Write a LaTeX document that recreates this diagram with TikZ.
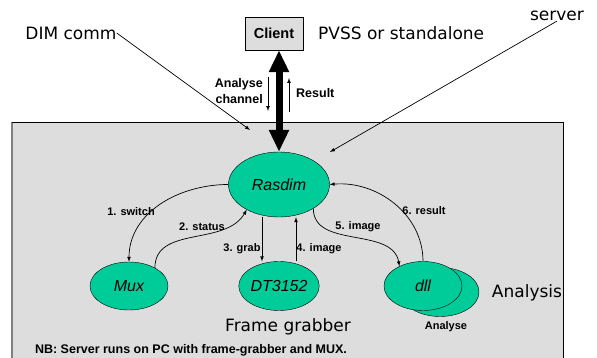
\documentclass[tikz,border=0pt]{standalone}
\usepackage{fontspec}
\setmainfont{Liberation Sans}
\newfontfamily\comicfont{DejaVu Sans}
\usepackage{tikz}
\usetikzlibrary{arrows.meta, shapes.geometric}
\definecolor{boxgray}{RGB}{221,221,221}
\definecolor{blobgreen}{RGB}{0,204,153}

\begin{document}
\begin{tikzpicture}[>=latex, x=1pt, y=1pt,
  blob/.style={ellipse, draw, fill=blobgreen, inner sep=0pt,
    font=\fontsize{16}{18}\selectfont\itshape},
  lbl/.style={font=\fontsize{11}{13}\selectfont\bfseries, inner sep=0pt},
  biglbl/.style={font=\fontsize{12.5}{16}\selectfont\bfseries, inner sep=0pt},
  remark/.style={font=\comicfont\fontsize{17}{19}\selectfont, inner sep=0pt},
  conn/.style={->, line width=0.7pt}]
  \useasboundingbox (0,0) rectangle (597,-358);
  % the server box
  \fill [boxgray] (12,-122) rectangle (563,-362);
  \draw [gray, line width=1.5pt] (12,-362) -- (12,-122);
  \draw [line width=0.8pt] (12,-122) -- (563,-122) -- (563,-362);

  \node [draw, fill=boxgray, minimum width=58pt, minimum height=33pt,
    font=\fontsize{14.5}{16}\selectfont\bfseries] (client) at (274,-33.5) {Client};
  \node at (318,-33) [remark, anchor=west] (pvss) {PVSS or standalone};
  \node at (71,-33) [remark] (dimcomm) {DIM comm};
  \node at (557,-16) [remark] (server) {server};

  \node at (279,-184.5) [blob, minimum width=101pt, minimum height=65pt] (rasdim) {Rasdim};
  \node at (129,-286) [blob, minimum width=78pt, minimum height=48pt] (mux) {Mux};
  \node at (279,-286) [blob, minimum width=79pt, minimum height=49pt] (dt) {DT3152};
  \node at (440,-292) [blob, minimum width=78pt, minimum height=49pt] (dllback) {};
  \node at (423,-286) [blob, minimum width=78pt, minimum height=49pt] (dll) {dll};

  \node at (446,-327) [lbl] (analyselbl) {Analyse};
  \node at (527,-293) [remark] (analysis) {Analysis};
  \node at (288,-327) [remark] (framegrab) {Frame grabber};
  \node at (191,-350) [biglbl] (nbnote) {NB: Server runs on PC with frame-grabber and MUX.};

  % client link
  \draw [line width=7pt, {Triangle[width=19pt,length=22pt]}-{Triangle[width=19pt,length=22pt]}]
    (client.south -| rasdim.north) -- (rasdim.north);
  \coordinate (achtop) at (268,-77);
  \coordinate (achbot) at (268,-111);
  \coordinate (restop) at (289,-78);
  \coordinate (resbot) at (289,-112);
  \draw [conn] (achtop) -- (achbot);
  \draw [conn] (resbot) -- (restop);
  \node at (263,-91) [biglbl, anchor=east, align=right] (achlbl) {Analyse\\channel};
  \node at (296,-93) [biglbl, anchor=west] (reslbl) {Result};

  % pointers
  \coordinate (dimtip) at (250,-130);
  \coordinate (srvtip) at (330,-152);
  \draw [conn] (dimcomm.east) -- (dimtip);
  \draw [conn] (server.south) -- (srvtip);

  % messages
  \draw [conn] (rasdim.west) to [out=180, in=90] (mux.north);
  \draw [conn] (mux.35) to [out=90, in=240] (rasdim.218);
  \draw [conn] ([xshift=-17pt]rasdim.south) -- ([xshift=-17pt]dt.north);
  \draw [conn] ([xshift=17pt]dt.north) -- ([xshift=17pt]rasdim.south);
  \draw [conn] (rasdim.-35) to [out=-90, in=100] (dll.140);
  \draw [conn] (dll.north) to [out=90, in=5] (rasdim.east);
  \node at (131,-212) [lbl] (swlbl) {1. switch};
  \node at (202,-227) [lbl] (stlbl) {2. status};
  \node at (242,-249) [lbl] (grlbl) {3. grab};
  \node at (319,-249) [lbl] (imlbl) {4. image};
  \node at (358,-227) [lbl] (imlblb) {5. image};
  \node at (424,-211) [lbl] (rslbl) {6. result};
\end{tikzpicture}
\end{document}
